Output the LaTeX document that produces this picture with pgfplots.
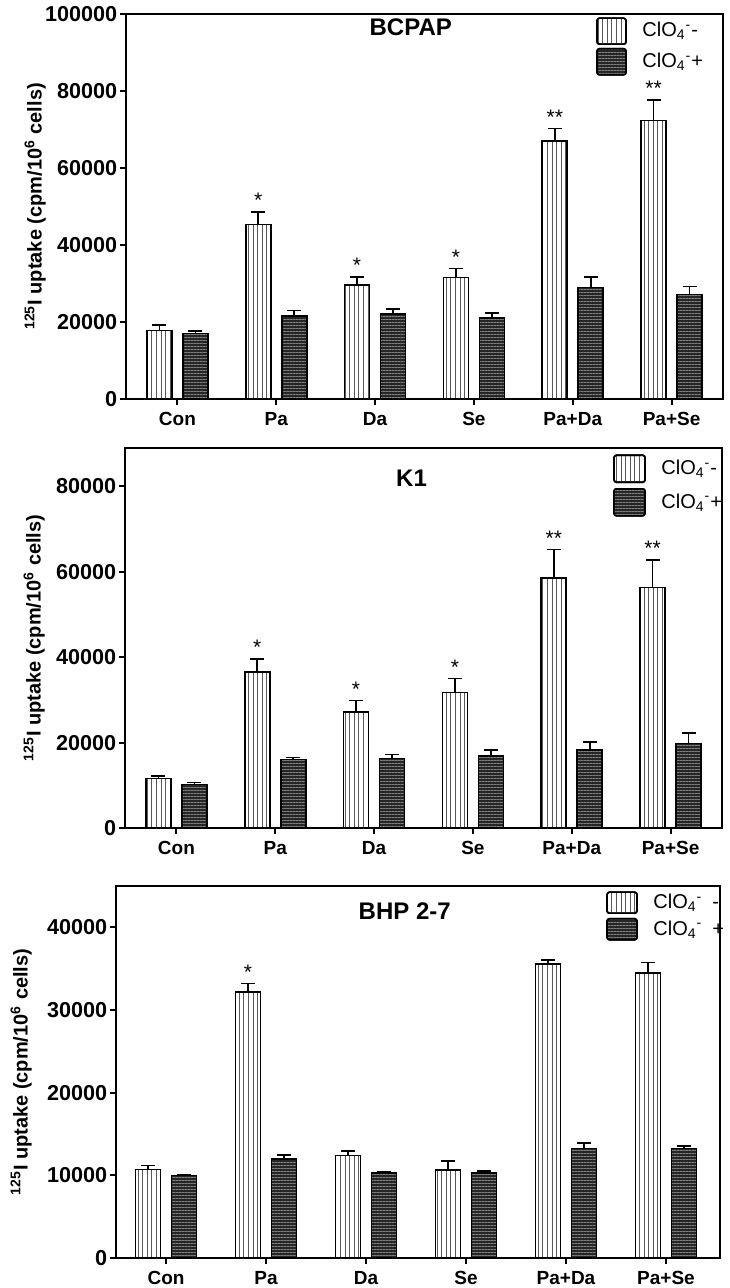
\documentclass[border=0pt]{standalone}
\usepackage{pgfplots}
\pgfplotsset{compat=1.18}
\usepackage{pgfplotstable}
\usetikzlibrary{patterns.meta}
\usepackage{fontspec}
\setmainfont{Liberation Sans}

\pgfplotstableread{
x m me p pe
0 17800 1450 17000 600
1 45300 3300 21600 1400
2 29600 2100 22000 1300
3 31600 2300 21000 1300
4 67000 3300 29000 2700
5 72300 5400 27100 2100
}\bcpap

\pgfplotstableread{
x m me p pe
0 11600 550 10200 500
1 36600 3000 16000 500
2 27200 2700 16300 950
3 31700 3300 16800 1500
4 58600 6600 18300 1900
5 56300 6500 19800 2400
}\kone

\pgfplotstableread{
x m me p pe
0 10700 500 10000 120
1 32200 1000 11950 500
2 12400 550 10250 150
3 10650 1100 10250 250
4 35600 450 13250 650
5 34450 1300 13250 300
}\bhp

\pgfplotsset{
  panel/.style={
    scale only axis, anchor=south west,
    ybar=5.5pt, bar width=12.5pt,
    xmin=-0.52, xmax=5.52, ymin=0,
    xtick={0,...,5}, xticklabels={Con,Pa,Da,Se,Pa+Da,Pa+Se},
    tick align=outside, tick pos=left,
    axis line style={line width=1pt},
    every tick/.style={line width=1pt, black},
    major tick length=3pt,
    scaled y ticks=false,
    /pgf/number format/assume math mode=true,
    xticklabel style={font=\bfseries\fontsize{9.5}{11}\selectfont},
    yticklabel style={font=\bfseries\fontsize{10.8}{12}\selectfont, inner sep=1.2pt,
      /pgf/number format/.cd, set thousands separator={}, fixed},
    ylabel={\textsuperscript{125}I uptake (cpm/10\textsuperscript{6} cells)},
    ylabel style={font=\bfseries\fontsize{10}{12}\selectfont, at={(axis description cs:-0.152,0.5)}, anchor=center},
    legend style={draw=none, fill=none, at={(1,1)}, anchor=north east,
      font=\fontsize{10}{12}\selectfont, row sep=2pt, inner sep=0pt,
      nodes={inner sep=0.8pt}},
    legend cell align=left,
    legend image code/.code={\draw[##1, rounded corners=1.2pt] (0pt,-6.75pt) rectangle (15.5pt,6.75pt);},
  },
  eb/.style={error bars/.cd, y dir=plus, y explicit,
    error bar style={line width=0.8pt, black},
    error mark options={rotate=90, mark size=3.5pt, line width=0.8pt, black}},
  striped/.style={draw=black, line width=0.8pt, fill=white,
    postaction={pattern={Lines[angle=90,distance=2.3pt,line width=0.45pt]}, pattern color=black!65}},
  dark/.style={draw=black, line width=0.8pt, fill=black!85,
    postaction={pattern={Lines[angle=0,distance=1.5pt,line width=0.45pt]}, pattern color=black!50}},
}
\newcommand\sig[3]{\node[font=\fontsize{10.5}{12}\selectfont, anchor=base, xshift=-9pt, yshift=2pt] at (axis cs:#1,#2) {#3};}
\newcommand\leg[1]{\hspace{7pt}ClO\textsubscript{4}\textsuperscript{-}#1}

\begin{document}
\begin{tikzpicture}
\useasboundingbox (0,0) rectangle (364.5pt,644pt);

% Panel 1: BCPAP
\begin{axis}[panel, at={(63pt,444.5pt)}, width=298.5pt, height=192.5pt,
  ymax=100000, ytick={0,20000,...,100000},
  legend image code/.code={\draw[#1, rounded corners=1.2pt] (0pt,-6.5pt) rectangle (14.5pt,6.5pt);},
  legend style={xshift=-9pt, yshift=-1.5pt, row sep=1.5pt}]
\addplot[striped, eb] table[x=x, y=m, y error=me]{\bcpap};
\addlegendentry{\leg{-}}
\addplot[dark, eb] table[x=x, y=p, y error=pe]{\bcpap};
\addlegendentry{\leg{+}}
\node[font=\bfseries\fontsize{12}{14}\selectfont] at (rel axis cs:0.477,0.965) {BCPAP};
\sig{1}{48600}{*}
\sig{2}{31700}{*}
\sig{3}{33900}{*}
\sig{4}{70300}{**}
\sig{5}{77700}{**}
\end{axis}

% Panel 2: K1
\begin{axis}[panel, at={(62.5pt,230pt)}, width=298.5pt, height=190pt,
  ymax=89000, ytick={0,20000,...,80000},
  legend style={xshift=1pt, yshift=-3pt, row sep=2.5pt}]
\addplot[striped, eb] table[x=x, y=m, y error=me]{\kone};
\addlegendentry{\leg{-}}
\addplot[dark, eb] table[x=x, y=p, y error=pe]{\kone};
\addlegendentry{\leg{+}}
\node[font=\bfseries\fontsize{12}{14}\selectfont] at (rel axis cs:0.48,0.92) {K1};
\sig{1}{39600}{*}
\sig{2}{29900}{*}
\sig{3}{35000}{*}
\sig{4}{65200}{**}
\sig{5}{62800}{**}
\end{axis}

% Panel 3: BHP 2-7
\begin{axis}[panel, at={(58pt,15pt)}, width=302pt, height=186pt,
  xmin=-0.5, xmax=5.54,
  ymax=45000, ytick={0,10000,...,40000},
  ylabel style={at={(axis description cs:-0.157,0.5)}},
  legend image code/.code={\draw[#1, rounded corners=1.2pt] (0pt,-5.25pt) rectangle (15pt,5.25pt);},
  legend style={xshift=3pt, yshift=-2.5pt, row sep=2pt}]
\addplot[striped, eb] table[x=x, y=m, y error=me]{\bhp};
\addlegendentry{\leg{\hspace{5pt}-}}
\addplot[dark, eb] table[x=x, y=p, y error=pe]{\bhp};
\addlegendentry{\leg{\hspace{5pt}+}}
\node[font=\bfseries\fontsize{12}{14}\selectfont] at (rel axis cs:0.478,0.933) {BHP 2-7};
\sig{1}{33200}{*}
\end{axis}
\end{tikzpicture}
\end{document}
